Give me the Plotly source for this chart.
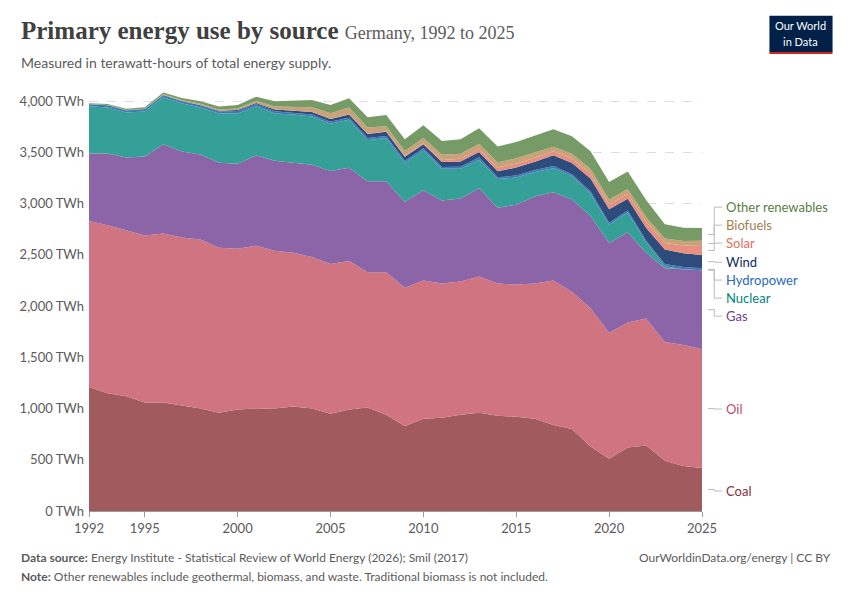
import plotly.graph_objects as go

years = list(range(1992, 2026))
coal = [1210,1150,1120,1060,1060,1030,1000,960,990,1000,1000,1020,1000,950,990,1010,940,830,900,910,940,960,930,920,900,840,800,630,510,620,640,490,440,420]
oil = [1620,1640,1620,1630,1650,1640,1650,1610,1570,1590,1540,1500,1480,1460,1450,1320,1390,1350,1350,1310,1300,1330,1290,1290,1320,1410,1340,1350,1230,1220,1240,1160,1180,1160]
gas = [660,700,710,770,870,840,830,830,830,880,880,880,900,910,910,890,890,840,880,810,810,860,740,780,850,862,900,900,875,880,640,720,740,770]
nuclear = [460,450,440,440,460,470,460,480,490,480,460,470,470,460,470,400,420,380,390,310,290,280,280,265,240,235,230,220,180,195,100,20,0,0]
hydro = [20,20,20,22,20,20,20,21,24,23,23,19,20,19,20,20,20,19,21,18,21,23,19,19,20,20,17,20,18,19,17,20,21,19]
wind = [0.3,0.6,0.9,1.5,2,3,4.5,5.5,9.5,10.5,16,19,25,27,31,40,41,39,38,49,51,52,57,80,79,105,110,126,132,114,125,143,136,130]
solar = [0,0,0,0,0,0,0,0,0,0.2,0.3,0.5,1,1.3,2.2,3,4.4,6.6,12,20,26,31,36,39,38,39,46,47,50,50,61,62,74,88]
biofuels = [1,2,3,4,6,8,10,12,15,20,30,40,45,55,65,60,50,50,50,50,50,50,50,50,50,45,45,45,45,45,45,45,45,50]
other = [10,10,12,15,18,20,25,30,35,40,50,60,70,80,90,100,110,115,125,135,140,150,155,160,165,170,170,175,172,170,165,140,130,125]

sources = ["Coal", "Oil", "Gas", "Nuclear", "Hydropower", "Wind", "Solar", "Biofuels", "Other renewables"]
values = [coal, oil, gas, nuclear, hydro, wind, solar, biofuels, other]
fills = ["#a15b5f", "#cf7480", "#8b65a7", "#35a097", "#3e7ab8", "#2d4c7c", "#e8907f", "#c9a27a", "#779b67"]
label_colors = ["#883039", "#c15065", "#6d3e91", "#00847e", "#286bbb", "#0f2d5c", "#e56e5a", "#a2814c", "#578145"]
label_y = [195, 995, 1902, 2078, 2254, 2429, 2615, 2790, 2966]

fig = go.Figure()
for name, vals, col in zip(sources, values, fills):
    fig.add_trace(go.Scatter(x=years, y=vals, name=name, stackgroup="one",
                             mode="lines", line=dict(width=0, color=col),
                             fillcolor=col, hoverinfo="skip"))

# right-hand labels with elbow connectors
cum = 0
for name, vals, lc, ly in zip(sources, values, label_colors, label_y):
    mid = cum + vals[-1] / 2
    cum += vals[-1]
    fig.add_shape(type="path", xref="paper", yref="y",
                  path=f"M 1.01 {mid} L 1.02 {mid} L 1.02 {ly} L 1.033 {ly}",
                  line=dict(color="#bbbbbb", width=1))
    fig.add_annotation(x=1.036, y=ly, xref="paper", yref="y", text=name,
                       showarrow=False, xanchor="left",
                       font=dict(size=13, color=lc))

def note(x, y, text, size, xanchor="left", **kw):
    fig.add_annotation(x=x, y=y, xref="paper", yref="paper", xanchor=xanchor,
                       yanchor="middle", showarrow=False, text=text,
                       font=dict(size=size, **kw))

note(-0.114, 1.145,
     "<b>Primary energy use by source</b> <span style='font-size:18px;color:#5b5b5b'>Germany, 1992 to 2025</span>",
     25, family="Liberation Serif, serif", color="#404040")
note(-0.114, 1.069, "Measured in terawatt-hours of total energy supply.", 14, color="#5b5b5b")
note(-0.114, -0.11,
     "<b>Data source:</b> Energy Institute - Statistical Review of World Energy (2026); Smil (2017)",
     12, color="#5b5b5b")
note(1.213, -0.11, "OurWorldinData.org/energy | CC BY", 12, xanchor="right", color="#5b5b5b")
note(-0.114, -0.157,
     "<b>Note:</b> Other renewables include geothermal, biomass, and waste. Traditional biomass is not included.",
     12, color="#5b5b5b")

# logo
fig.add_shape(type="rect", xref="paper", yref="paper", x0=1.110, x1=1.213, y0=1.093, y1=1.179,
              fillcolor="#002147", line=dict(width=0))
fig.add_shape(type="rect", xref="paper", yref="paper", x0=1.110, x1=1.213, y0=1.088, y1=1.093,
              fillcolor="#ce261e", line=dict(width=0))
note(1.1615, 1.155, "Our World", 11, xanchor="center", color="white")
note(1.1615, 1.118, "in Data", 11, xanchor="center", color="white")

fig.update_layout(
    width=850, height=600, showlegend=False,
    margin=dict(l=78, r=156, t=83, b=97),
    paper_bgcolor="white", plot_bgcolor="white",
    font=dict(family="Lato, sans-serif", color="#5b5b5b"),
    hovermode=False,
    xaxis=dict(range=[1992, 2025], tickvals=[1992, 1995, 2000, 2005, 2010, 2015, 2020, 2025],
               showgrid=False, ticks="outside", ticklen=5, tickcolor="#999",
               showline=True, linecolor="#999", tickfont=dict(size=13)),
    yaxis=dict(range=[0, 4100], tickvals=[0, 500, 1000, 1500, 2000, 2500, 3000, 3500, 4000],
               ticktext=["0 TWh", "500 TWh", "1,000 TWh", "1,500 TWh", "2,000 TWh",
                         "2,500 TWh", "3,000 TWh", "3,500 TWh", "4,000 TWh"],
               gridcolor="#dddddd", griddash="dash", zeroline=False, tickfont=dict(size=13),
               ticklabelstandoff=4),
)
fig.write_html("out.html")
